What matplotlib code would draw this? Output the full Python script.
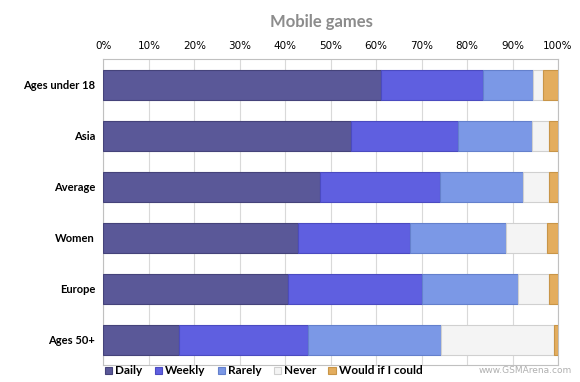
import matplotlib
matplotlib.use("Agg")
import matplotlib.pyplot as plt
import numpy as np

# values (percent)
groups = ["Ages under 18", "Asia", "Average", "Women", "Europe", "Ages 50+"]
series = ["Daily", "Weekly", "Rarely", "Never", "Would if I could"]
daily = [61.0, 54.5, 47.7, 42.7, 40.7, 16.6]
weekly = [22.5, 23.5, 26.3, 24.8, 29.4, 28.3]
rarely = [11.1, 16.2, 18.4, 21.0, 21.1, 29.3]
never = [2.1, 3.8, 5.7, 9.0, 6.9, 25.0]
would = [3.3, 2.0, 1.9, 2.5, 1.9, 0.8]
xticks = [0, 10, 20, 30, 40, 50, 60, 70, 80, 90, 100]

colors = ["#5a5898", "#5f5fe0", "#7b98e6", "#f4f4f4", "#e3ad5e"]
edges = ["#45437a", "#4b4bc0", "#6480cc", "#d0d0d0", "#c89548"]

lato = ["Lato", "DejaVu Sans"]

fig = plt.figure(figsize=(5.8, 3.82), dpi=100)
ax = fig.add_axes([0.1784, 0.0445, 0.7836, 0.8])

y = np.arange(len(groups))
left = np.zeros(len(groups))
for name, vals, c, ec in zip(series, [daily, weekly, rarely, never, would], colors, edges):
    vals = np.array(vals)
    ax.barh(y, vals, left=left, height=0.59, color=c, edgecolor=ec,
            linewidth=0.8, label=name, zorder=3)
    left += vals

ax.set_ylim(len(groups) - 0.5, -0.5)
ax.set_xlim(0, 100)
ax.set_yticks(y)
ax.set_yticklabels(groups, fontfamily=lato, fontweight="bold", fontsize=8)
ax.xaxis.tick_top()
ax.set_xticks(xticks)
ax.set_xticklabels([f"{t}%" for t in xticks], fontfamily="DejaVu Sans", fontsize=7.5)
ax.tick_params(axis="both", length=0)
ax.tick_params(axis="x", pad=6)
ax.tick_params(axis="y", pad=6)
ax.grid(axis="x", color="#d9d9d9", linewidth=0.8, zorder=0)
for s in ax.spines.values():
    s.set_color("#c0c0c0")
    s.set_linewidth(0.8)

fig.text(321 / 580, 0.942, "Mobile games", ha="center", va="center", fontsize=12,
         fontweight="bold", color="#8c8c8c", fontfamily=lato)

fig.legend(loc="center left", bbox_to_anchor=(105 / 580, 0.029), ncol=5, frameon=False,
           prop={"family": lato, "size": 8.5, "weight": "bold"}, handlelength=0.6,
           handleheight=0.6, handletextpad=0.25, columnspacing=1.05,
           borderaxespad=0, borderpad=0)

fig.text(572 / 580, 0.029, "www.GSMArena.com", ha="right", va="center", fontsize=6.5,
         color="#b0b0b0", fontfamily="DejaVu Sans")

fig.savefig("out.png", dpi=100)
